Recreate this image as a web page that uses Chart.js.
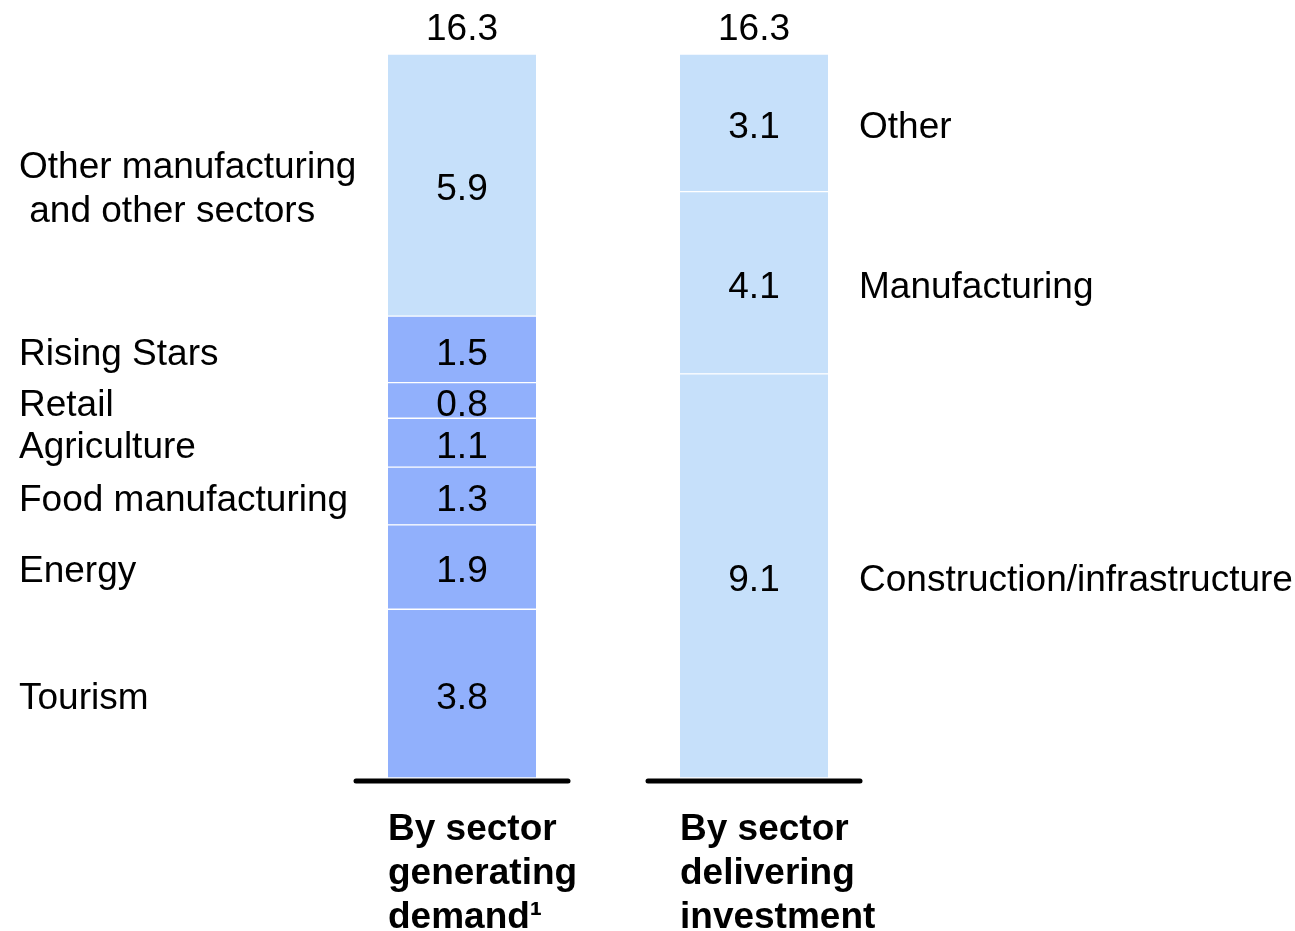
<!DOCTYPE html>
<html>
<head>
<meta charset="utf-8">
<script src="https://cdn.jsdelivr.net/npm/chart.js@4"></script>
<style>
    html, body { margin: 0; padding: 0; background: #fff; }
    #wrap { width: 1295px; height: 931px; }
</style>
</head>
<body>
<div id="wrap"><canvas id="myChart"></canvas></div>
<script>
const categories = [['By sector', 'generating', 'demand¹'], ['By sector', 'delivering', 'investment']]
const totals = [16.3, 16.3]

// left bar, bottom to top
const demandSectors = ['Tourism', 'Energy', 'Food manufacturing', 'Agriculture', 'Retail', 'Rising Stars', ['Other manufacturing', ' and other sectors']]
const demandValues = [3.8, 1.9, 1.3, 1.1, 0.8, 1.5, 5.9]

// right bar, bottom to top
const deliverySectors = ['Construction/infrastructure', 'Manufacturing', 'Other']
const deliveryValues = [9.1, 4.1, 3.1]

const darkBlue = '#91b0fc'
const lightBlue = '#c6e0fa'
const FONT = '"Liberation Sans", Arial, sans-serif'

const datasets = []
demandValues.forEach((v, i) => {
    datasets.push({
        label: demandSectors[i],
        data: [v, null],
        backgroundColor: i < 6 ? darkBlue : lightBlue
    })
})
deliveryValues.forEach((v, i) => {
    datasets.push({
        label: deliverySectors[i],
        data: [null, v],
        backgroundColor: lightBlue
    })
})
datasets.forEach(d => {
    d.borderColor = '#ffffff'
    d.borderWidth = { top: 1, bottom: 1, left: 0, right: 0 }
    d.borderSkipped = false
    d.barThickness = 148
})

// draws segment values, side labels, totals, base lines and category titles
const annotate = {
    id: 'annotate',
    afterDatasetsDraw(chart) {
        const ctx = chart.ctx
        const x = chart.scales.x
        const y = chart.scales.y
        ctx.save()
        ctx.fillStyle = '#000'
        ctx.textBaseline = 'middle'
        ctx.font = '37px ' + FONT

        const drawStack = (values, names, idx, labelX) => {
            let base = 0
            const cx = x.getPixelForValue(idx)
            values.forEach((v, i) => {
                const mid = y.getPixelForValue(base + v / 2) + 5
                ctx.textAlign = 'center'
                ctx.fillText(v.toFixed(1), cx, mid)
                ctx.textAlign = 'left'
                const lines = Array.isArray(names[i]) ? names[i] : [names[i]]
                lines.forEach((t, k) => {
                    ctx.fillText(t, labelX, mid + (k - (lines.length - 1) / 2) * 44)
                })
                base += v
            })
        }
        drawStack(demandValues, demandSectors, 0, 19)
        drawStack(deliveryValues, deliverySectors, 1, 859)

        // totals above the bars
        ctx.textAlign = 'center'
        totals.forEach((t, i) => {
            ctx.fillText(t.toFixed(1), x.getPixelForValue(i), y.getPixelForValue(t) - 24)
        })

        // base lines
        const y0 = y.getPixelForValue(0) + 3
        ctx.strokeStyle = '#000'
        ctx.lineWidth = 5
        ctx.lineCap = 'round'
        categories.forEach((c, i) => {
            const cx = x.getPixelForValue(i)
            ctx.beginPath()
            ctx.moveTo(cx - 106, y0)
            ctx.lineTo(cx + 106, y0)
            ctx.stroke()
        })

        // category titles
        ctx.font = 'bold 37px ' + FONT
        ctx.textAlign = 'left'
        categories.forEach((c, i) => {
            const left = x.getPixelForValue(i) - 74
            c.forEach((t, k) => {
                ctx.fillText(t, left, y0 + 49 + k * 44)
            })
        })
        ctx.restore()
    }
}

const ctx = document.getElementById('myChart').getContext('2d')
const myChart = new Chart(ctx, {
    type: 'bar',
    data: {
        labels: categories.map(c => c.join(' ')),
        datasets: datasets
    },
    options: {
        responsive: true,
        maintainAspectRatio: false,
        animation: false,
        layout: {
            padding: { left: 316, right: 395, top: 54, bottom: 153 }
        },
        plugins: {
            legend: { display: false },
            tooltip: { enabled: false }
        },
        scales: {
            x: { stacked: true, display: false },
            y: { stacked: true, display: false, min: 0, max: 16.3 }
        }
    },
    plugins: [annotate]
})
</script>
</body>
</html>
